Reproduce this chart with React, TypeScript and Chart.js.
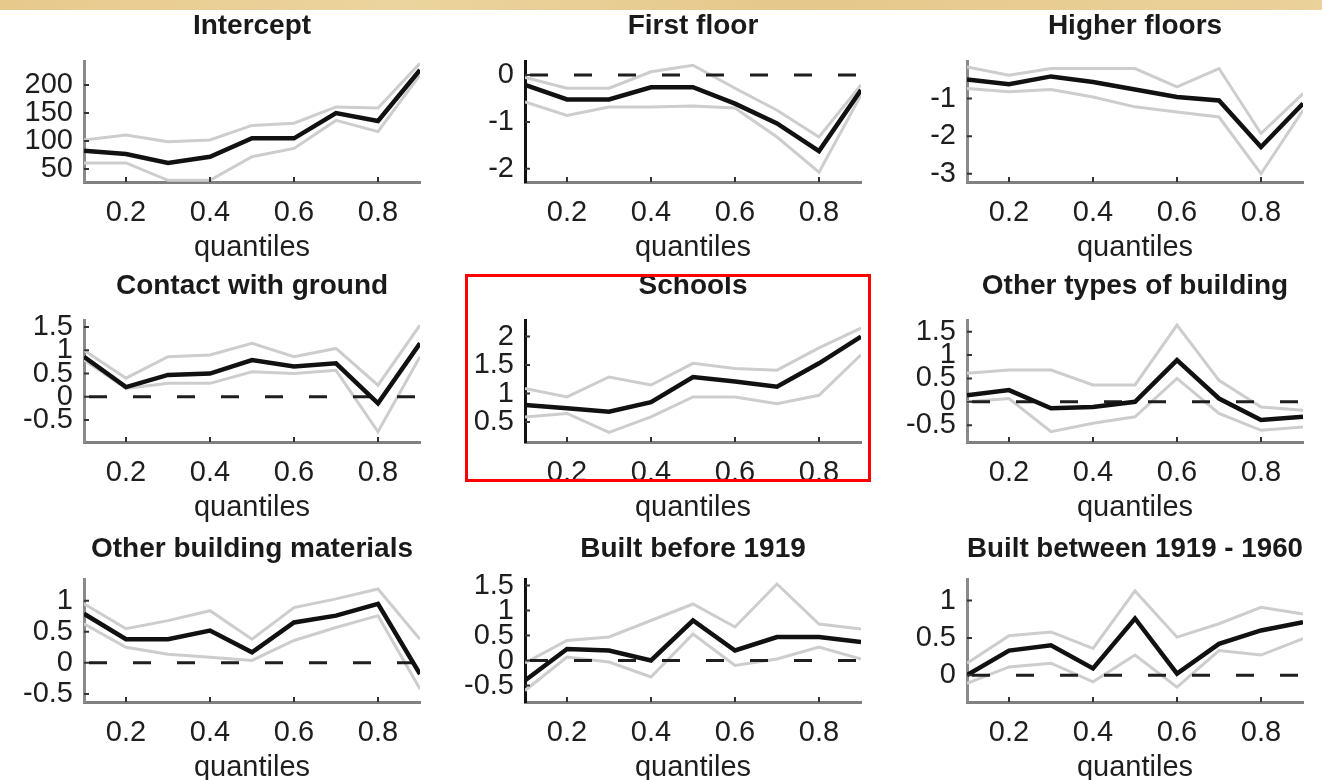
import React, { useEffect, useRef } from "react";
import { Chart, registerables } from "chart.js";

Chart.register(...registerables);

// ---------------- data ----------------
const quantiles = [0.1, 0.2, 0.3, 0.4, 0.5, 0.6, 0.7, 0.8, 0.9];
const xTickValues = [0.2, 0.4, 0.6, 0.8];
const xLabel = "quantiles";

const interceptEst = [83, 77, 61, 72, 105, 105, 150, 136, 227];
const interceptUpper = [102, 111, 99, 102, 128, 132, 161, 159, 239];
const interceptLower = [61, 61, 30, 30, 72, 87, 137, 117, 218];
const interceptTicks = [50, 100, 150, 200];

const firstFloorEst = [-0.21, -0.52, -0.52, -0.26, -0.26, -0.61, -1.03, -1.62, -0.32];
const firstFloorUpper = [-0.05, -0.28, -0.28, 0.07, 0.21, -0.28, -0.75, -1.32, -0.21];
const firstFloorLower = [-0.57, -0.86, -0.68, -0.68, -0.66, -0.7, -1.32, -2.07, -0.43];
const firstFloorTicks = [-2, -1, 0];

const higherFloorsEst = [-0.49, -0.62, -0.41, -0.56, -0.76, -0.96, -1.05, -2.29, -1.13];
const higherFloorsUpper = [-0.16, -0.38, -0.2, -0.2, -0.2, -0.69, -0.2, -1.93, -0.87];
const higherFloorsLower = [-0.73, -0.82, -0.76, -0.96, -1.22, -1.36, -1.49, -3.0, -1.31];
const higherFloorsTicks = [-3, -2, -1];

const contactEst = [0.86, 0.21, 0.47, 0.5, 0.79, 0.65, 0.72, -0.14, 1.15];
const contactUpper = [1.0, 0.4, 0.86, 0.9, 1.15, 0.86, 1.04, 0.25, 1.54];
const contactLower = [0.79, 0.18, 0.29, 0.29, 0.54, 0.5, 0.57, -0.75, 0.86];
const contactTicks = [-0.5, 0, 0.5, 1, 1.5];

const schoolsEst = [0.8, 0.74, 0.68, 0.85, 1.29, 1.21, 1.12, 1.53, 2.0];
const schoolsUpper = [1.09, 0.94, 1.29, 1.15, 1.53, 1.44, 1.41, 1.8, 2.15];
const schoolsLower = [0.59, 0.65, 0.32, 0.59, 0.94, 0.94, 0.82, 0.97, 1.68];
const schoolsTicks = [0.5, 1, 1.5, 2];

const otherTypesEst = [0.14, 0.25, -0.14, -0.11, 0.0, 0.89, 0.07, -0.39, -0.32];
const otherTypesUpper = [0.61, 0.68, 0.68, 0.36, 0.36, 1.64, 0.46, -0.11, -0.18];
const otherTypesLower = [0.0, 0.07, -0.64, -0.46, -0.32, 0.5, -0.25, -0.61, -0.54];
const otherTypesTicks = [-0.5, 0, 0.5, 1, 1.5];

const materialsEst = [0.79, 0.38, 0.38, 0.52, 0.17, 0.65, 0.76, 0.95, -0.18];
const materialsUpper = [0.95, 0.55, 0.68, 0.84, 0.38, 0.89, 1.03, 1.19, 0.38];
const materialsLower = [0.63, 0.25, 0.14, 0.09, 0.04, 0.36, 0.57, 0.76, -0.42];
const materialsTicks = [-0.5, 0, 0.5, 1];

const before1919Est = [-0.4, 0.23, 0.2, 0.0, 0.8, 0.2, 0.47, 0.47, 0.37];
const before1919Upper = [-0.05, 0.4, 0.47, 0.8, 1.13, 0.67, 1.53, 0.73, 0.63];
const before1919Lower = [-0.6, 0.07, -0.03, -0.33, 0.53, -0.1, 0.03, 0.27, 0.03];
const before1919Ticks = [-0.5, 0, 0.5, 1, 1.5];

const between1919Est = [0.0, 0.33, 0.4, 0.09, 0.76, 0.02, 0.42, 0.6, 0.71];
const between1919Upper = [0.16, 0.53, 0.58, 0.36, 1.13, 0.51, 0.69, 0.91, 0.82];
const between1919Lower = [-0.11, 0.11, 0.16, -0.09, 0.27, -0.16, 0.33, 0.27, 0.49];
const between1919Ticks = [0, 0.5, 1];

const zeroLine = [0, 0];
const zeroLineX = [0.1, 0.9];

type Panel = {
  title: string;
  est: number[];
  upper: number[];
  lower: number[];
  ticks: number[];
  yMin: number;
  yMax: number;
  zero: boolean;
};

const panels: Panel[] = [
  { title: "Intercept", est: interceptEst, upper: interceptUpper, lower: interceptLower, ticks: interceptTicks, yMin: 27, yMax: 243, zero: false },
  { title: "First floor", est: firstFloorEst, upper: firstFloorUpper, lower: firstFloorLower, ticks: firstFloorTicks, yMin: -2.28, yMax: 0.3, zero: true },
  { title: "Higher floors", est: higherFloorsEst, upper: higherFloorsUpper, lower: higherFloorsLower, ticks: higherFloorsTicks, yMin: -3.22, yMax: 0.0, zero: false },
  { title: "Contact with ground", est: contactEst, upper: contactUpper, lower: contactLower, ticks: contactTicks, yMin: -0.97, yMax: 1.65, zero: true },
  { title: "Schools", est: schoolsEst, upper: schoolsUpper, lower: schoolsLower, ticks: schoolsTicks, yMin: 0.15, yMax: 2.29, zero: false },
  { title: "Other types of building", est: otherTypesEst, upper: otherTypesUpper, lower: otherTypesLower, ticks: otherTypesTicks, yMin: -0.86, yMax: 1.75, zero: true },
  { title: "Other building materials", est: materialsEst, upper: materialsUpper, lower: materialsLower, ticks: materialsTicks, yMin: -0.63, yMax: 1.35, zero: true },
  { title: "Built before 1919", est: before1919Est, upper: before1919Upper, lower: before1919Lower, ticks: before1919Ticks, yMin: -0.83, yMax: 1.63, zero: true },
  { title: "Built between 1919 - 1960", est: between1919Est, upper: between1919Upper, lower: between1919Lower, ticks: between1919Ticks, yMin: -0.36, yMax: 1.29, zero: true },
];

// ---------------- layout ----------------
const colLeft = [84, 525, 967];
const rowTop = [61, 320, 579];
const rowHeight = [121, 122, 123];
const titleOffset = [35, 34, 30];
const yAxisColors = ["#8a8a8a", "#111111", "#8a8a8a"];
const AXIS_W = 336;
const CANVAS_W = 440;
const CANVAS_H = 300;
const TOP_AREA = 61;
const Y_AXIS_W = 84;
const XLABEL_GAP = 66;
const FONT = 'Arial, "Liberation Sans", Helvetica, sans-serif';

const inwardTicks = {
  id: "inwardTicks",
  afterDatasetsDraw(chart: any) {
    const { ctx, chartArea, scales } = chart;
    ctx.save();
    ctx.strokeStyle = "#333333";
    ctx.lineWidth = 2;
    ctx.beginPath();
    scales.x.ticks.forEach((t: any) => {
      const px = scales.x.getPixelForValue(t.value);
      ctx.moveTo(px, chartArea.bottom);
      ctx.lineTo(px, chartArea.bottom - 5);
    });
    scales.y.ticks.forEach((t: any) => {
      const py = scales.y.getPixelForValue(t.value);
      ctx.moveTo(chartArea.left, py);
      ctx.lineTo(chartArea.left + 5, py);
    });
    ctx.stroke();
    ctx.restore();
  },
};

function PanelChart({ panel, col, row }: { panel: Panel; col: number; row: number }) {
  const ref = useRef<HTMLCanvasElement | null>(null);
  useEffect(() => {
    if (!ref.current) return;
    const h = rowHeight[row];
    const pt = 44.2 - titleOffset[row];
    const pb = TOP_AREA - 33.6 - pt;
    const xAxisH = CANVAS_H - TOP_AREA - h;
    const xTitlePadBottom = CANVAS_H - 17.4 - XLABEL_GAP - TOP_AREA - h;
    const toXY = (arr: number[]) => arr.map((v, i) => ({ x: quantiles[i], y: v }));
    const datasets: any[] = [
      { data: toXY(panel.est), borderColor: "#111111", borderWidth: 4.5, pointRadius: 0, tension: 0 },
    ];
    if (panel.zero) {
      datasets.push({
        data: zeroLine.map((v, i) => ({ x: zeroLineX[i], y: v })),
        borderColor: "#1e1e1e",
        borderWidth: 3,
        borderDash: [18, 26],
        borderDashOffset: -5,
        pointRadius: 0,
      });
    }
    datasets.push(
      { data: toXY(panel.upper), borderColor: "#cdcdcd", borderWidth: 3, pointRadius: 0, tension: 0 },
      { data: toXY(panel.lower), borderColor: "#cdcdcd", borderWidth: 3, pointRadius: 0, tension: 0 }
    );
    const chart = new Chart(ref.current, {
      type: "line",
      data: { datasets },
      plugins: [inwardTicks],
      options: {
        animation: false,
        responsive: false,
        maintainAspectRatio: false,
        devicePixelRatio: 1,
        events: [],
        layout: { padding: { left: 0, right: CANVAS_W - Y_AXIS_W - AXIS_W, top: 0, bottom: 0 } },
        plugins: {
          legend: { display: false },
          tooltip: { enabled: false },
          title: {
            display: true,
            text: panel.title,
            fullSize: false,
            color: "#1a1a1a",
            font: { family: FONT, size: 28, weight: "bold", lineHeight: 1.2 },
            padding: { top: pt, bottom: pb },
          },
        },
        scales: {
          x: {
            type: "linear",
            min: 0.1,
            max: 0.9,
            grid: { display: false, drawTicks: false },
            border: { display: true, color: "#808080", width: 3 },
            afterBuildTicks: (scale: any) => {
              scale.ticks = xTickValues.map((v) => ({ value: v }));
            },
            afterFit: (scale: any) => {
              scale.height = xAxisH;
            },
            ticks: {
              padding: 14,
              color: "#1e1e1e",
              font: { family: FONT, size: 29, lineHeight: 1.2 },
              maxRotation: 0,
              autoSkip: false,
              callback: (v: any) => String(v),
            },
            title: {
              display: true,
              text: xLabel,
              color: "#1e1e1e",
              font: { family: FONT, size: 29, lineHeight: 1.2 },
              padding: { top: 0, bottom: xTitlePadBottom },
            },
          },
          y: {
            type: "linear",
            min: panel.yMin,
            max: panel.yMax,
            grid: { display: false, drawTicks: false },
            border: { display: true, color: yAxisColors[col], width: 3 },
            afterBuildTicks: (scale: any) => {
              scale.ticks = panel.ticks.map((v) => ({ value: v }));
            },
            afterFit: (scale: any) => {
              scale.width = Y_AXIS_W;
            },
            ticks: {
              padding: 11,
              color: "#1e1e1e",
              font: { family: FONT, size: 29, lineHeight: 1.2 },
              autoSkip: false,
              callback: (v: any) => String(v),
            },
          },
        },
      } as any,
    });
    return () => chart.destroy();
  }, [panel, col, row]);

  return (
    <canvas
      ref={ref}
      width={CANVAS_W}
      height={CANVAS_H}
      style={{
        position: "absolute",
        left: colLeft[col] - Y_AXIS_W,
        top: rowTop[row] - TOP_AREA,
        width: CANVAS_W,
        height: CANVAS_H,
      }}
    />
  );
}

export default function App() {
  return (
    <div
      style={{
        position: "absolute",
        left: 0,
        top: 0,
        width: 1322,
        height: 780,
        overflow: "hidden",
        background: "#ffffff",
      }}
    >
      <div
        style={{
          position: "absolute",
          left: 0,
          top: 0,
          width: 1322,
          height: 10,
          background: "linear-gradient(90deg, #e7c98c, #ecd49e 30%, #e5c88b 60%, #ebd19a)",
        }}
      />
      {panels.map((p, i) => (
        <PanelChart key={p.title} panel={p} col={i % 3} row={Math.floor(i / 3)} />
      ))}
      <div
        style={{
          position: "absolute",
          left: 465,
          top: 274,
          width: 406,
          height: 208,
          border: "3px solid #ff0000",
          boxSizing: "border-box",
          pointerEvents: "none",
        }}
      />
    </div>
  );
}
